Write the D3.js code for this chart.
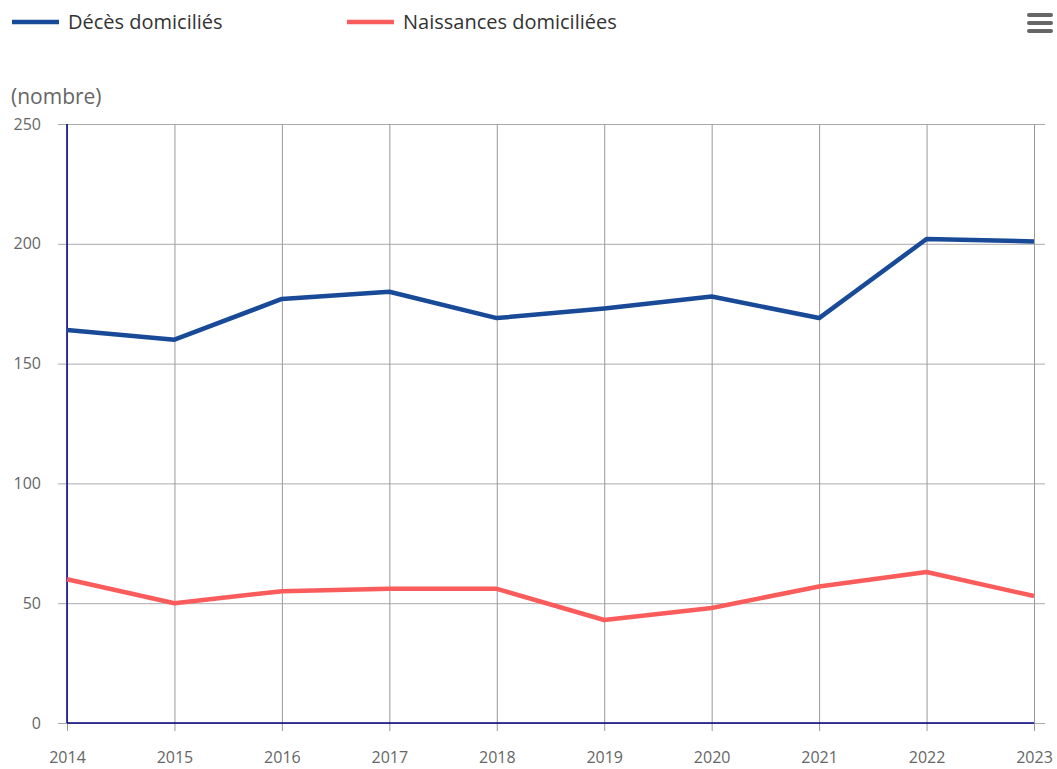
<!DOCTYPE html>
<html lang="fr">
<head>
<meta charset="utf-8">
<script src="https://d3js.org/d3.v7.min.js"></script>
<style>
  body { margin: 0; background: #fff; }
  svg { font-family: "Open Sans", "Noto Sans", sans-serif; display: block; }
</style>
</head>
<body>
<svg id="chart"></svg>
<script>
// data
const years = [2014, 2015, 2016, 2017, 2018, 2019, 2020, 2021, 2022, 2023];
const deces = [164, 160, 177, 180, 169, 173, 178, 169, 202, 201];
const naissances = [60, 50, 55, 56, 56, 43, 48, 57, 63, 53];
const seriesNames = ["Décès domiciliés", "Naissances domiciliées"];
const seriesColors = ["#184a97", "#fa5c5c"];
const yTicks = [0, 50, 100, 150, 200, 250];
const yUnit = "(nombre)";

const W = 1057, H = 769;
const margin = { top: 124, right: 23, bottom: 46, left: 67 };
const width = W - margin.left - margin.right;
const height = H - margin.top - margin.bottom;
const font = '"Open Sans", "Noto Sans", sans-serif';

const svg = d3.select("#chart").attr("width", W).attr("height", H);

const x = d3.scalePoint().domain(years).range([0, width]);
const y = d3.scaleLinear().domain([0, 250]).range([height, 0]);

const g = svg.append("g").attr("transform", `translate(${margin.left},${margin.top})`);

// horizontal grid + y labels
const yAxis = g.append("g")
  .call(d3.axisLeft(y).tickValues(yTicks).tickSize(9).tickPadding(17))
  .attr("font-family", font).attr("font-size", 16);
yAxis.select(".domain").remove();
yAxis.selectAll(".tick line").attr("stroke", "#aaa").attr("x2", width + 11).attr("x1", -9);
yAxis.selectAll(".tick text").attr("fill", "#666");

// vertical grid + x labels
const xAxis = g.append("g").attr("transform", `translate(0,${height})`)
  .call(d3.axisBottom(x).tickSize(8).tickPadding(21))
  .attr("font-family", font).attr("font-size", 16);
xAxis.select(".domain").remove();
xAxis.selectAll(".tick line").attr("stroke", "#999").attr("y1", -height).attr("y2", 8);
xAxis.selectAll(".tick text").attr("fill", "#666");

// axis lines
g.append("line").attr("x1", 0).attr("x2", 0).attr("y1", 0).attr("y2", height)
  .attr("stroke", "#000080").attr("stroke-width", 1.5);
g.append("line").attr("x1", 0).attr("x2", width).attr("y1", height).attr("y2", height)
  .attr("stroke", "#000080").attr("stroke-width", 1.5);

// series lines
const line = d3.line().x((d, i) => x(years[i])).y(d => y(d));
[deces, naissances].forEach((vals, k) => {
  g.append("path").datum(vals)
    .attr("d", line)
    .attr("fill", "none")
    .attr("stroke", seriesColors[k])
    .attr("stroke-width", 4.5)
    .attr("stroke-linejoin", "round");
});

// unit label
svg.append("text").attr("x", 11).attr("y", 104)
  .attr("fill", "#666").style("font-size", "21px").text(yUnit);

// legend
const legendX = [12, 347];
seriesNames.forEach((name, k) => {
  const lg = svg.append("g").attr("transform", `translate(${legendX[k]},22)`);
  lg.append("line").attr("x1", 0).attr("x2", 47).attr("y1", 0).attr("y2", 0)
    .attr("stroke", seriesColors[k]).attr("stroke-width", 4.5);
  lg.append("text").attr("x", 56).attr("y", 7)
    .attr("fill", "#333").style("font-size", "20px").text(name);
});

// menu icon
[15, 23, 31].forEach(yy => {
  svg.append("line").attr("x1", 1029).attr("x2", 1051).attr("y1", yy).attr("y2", yy)
    .attr("stroke", "#666").attr("stroke-width", 4).attr("stroke-linecap", "round");
});
</script>
</body>
</html>
